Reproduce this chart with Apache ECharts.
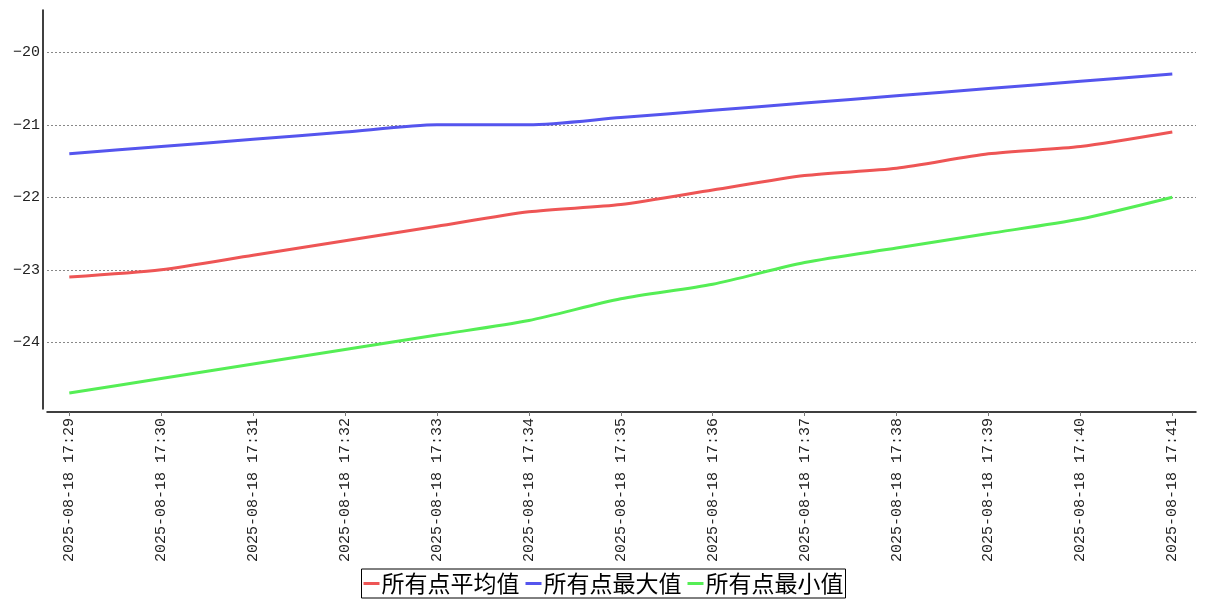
<!DOCTYPE html>
<html>
<head>
<meta charset="utf-8">
<script src="https://cdn.jsdelivr.net/npm/echarts@6/dist/echarts.min.js"></script>
<style>html,body{margin:0;padding:0;background:#fff;}#c{width:1207px;height:600px;}</style>
</head>
<body>
<div id="c"></div>
<script>
const categories = ['2025-08-18 17:29','2025-08-18 17:30','2025-08-18 17:31','2025-08-18 17:32','2025-08-18 17:33','2025-08-18 17:34','2025-08-18 17:35','2025-08-18 17:36','2025-08-18 17:37','2025-08-18 17:38','2025-08-18 17:39','2025-08-18 17:40','2025-08-18 17:41'];
const avgValues = [-23.1,-23.0,-22.8,-22.6,-22.4,-22.2,-22.1,-21.9,-21.7,-21.6,-21.4,-21.3,-21.1];
const maxValues = [-21.4,-21.3,-21.2,-21.1,-21.0,-21.0,-20.9,-20.8,-20.7,-20.6,-20.5,-20.4,-20.3];
const minValues = [-24.7,-24.5,-24.3,-24.1,-23.9,-23.7,-23.4,-23.2,-22.9,-22.7,-22.5,-22.3,-22.0];
const seriesNames = ['所有点平均值','所有点最大值','所有点最小值'];
const yMin = -24.92, yMax = -19.417;     // plotted range
const tickMin = -25, tickMax = -19;       // integer range for ticks/labels

// pixel layout
const plotTop = 10, plotBottom = 409;
const pxPerUnit = (plotBottom - plotTop) / (yMax - yMin);
const tickGridTop = plotTop - (tickMax - yMax) * pxPerUnit;
const tickGridBottomPx = plotBottom + (yMin - tickMin) * pxPerUnit;

const mono = '"Liberation Mono","DejaVu Sans Mono",monospace';
const noBounds = {outerBoundsMode: 'none', containLabel: false};
const chart = echarts.init(document.getElementById('c'));
chart.setOption({
  animation: false,
  backgroundColor: '#fff',
  grid: [
    Object.assign({left: 47, right: 11, top: plotTop, bottom: 600 - plotBottom}, noBounds),
    Object.assign({left: 69.3, right: 34.7, top: plotTop, bottom: 600 - plotBottom}, noBounds),
    Object.assign({left: 47, right: 11, top: tickGridTop, bottom: 600 - tickGridBottomPx}, noBounds)
  ],
  legend: {
    bottom: 2, left: 'center',
    data: seriesNames,
    icon: 'rect', itemWidth: 16, itemHeight: 3, itemGap: 6,
    borderColor: '#000', borderWidth: 1, padding: [3, 2, 3, 2],
    textStyle: {fontFamily: '"Noto Sans CJK SC"', fontSize: 23, color: '#000', padding: [0, 0, 0, -3]}
  },
  xAxis: [
    {gridIndex: 0, type: 'value', min: 0, max: 1, offset: 3,
     axisLine: {show: true, onZero: false, lineStyle: {color: '#000', width: 1.5}},
     axisTick: {show: false}, axisLabel: {show: false}, splitLine: {show: false}},
    {gridIndex: 1, type: 'category', data: categories, boundaryGap: false, offset: 3,
     axisLine: {show: false, onZero: false},
     axisTick: {show: true, length: 4, alignWithLabel: true, lineStyle: {color: '#777'}},
     axisLabel: {rotate: 90, margin: 6, interval: 0, fontFamily: mono, fontSize: 15, color: '#222'},
     splitLine: {show: false}},
    {gridIndex: 2, type: 'value', min: 0, max: 1, show: false, axisLine: {onZero: false}, splitLine: {show: false}}
  ],
  yAxis: [
    {gridIndex: 0, type: 'value', min: yMin, max: yMax, offset: 4,
     axisLine: {show: true, onZero: false, lineStyle: {color: '#000', width: 1.5}},
     axisTick: {show: false}, axisLabel: {show: false}, splitLine: {show: false}},
    {gridIndex: 1, type: 'value', min: yMin, max: yMax, show: false, axisLine: {onZero: false}, splitLine: {show: false}},
    {gridIndex: 2, type: 'value', min: tickMin, max: tickMax, interval: 1, offset: 4,
     axisLine: {show: false, onZero: false},
     axisTick: {show: false},
     axisLabel: {margin: 3, showMinLabel: false, showMaxLabel: false, fontFamily: mono, fontSize: 15, color: '#222',
       formatter: v => String(v).replace('-', '\u2212')},
     splitLine: {show: true, showMinLine: false, showMaxLine: false, lineStyle: {color: '#888', type: [2, 2], width: 1}}}
  ],
  series: [
    {name: seriesNames[0], type: 'line', xAxisIndex: 1, yAxisIndex: 1, data: avgValues, smooth: 0.25, symbol: 'none',
     lineStyle: {color: '#ee5555', width: 3}, itemStyle: {color: '#ee5555'}},
    {name: seriesNames[1], type: 'line', xAxisIndex: 1, yAxisIndex: 1, data: maxValues, smooth: 0.25, symbol: 'none',
     lineStyle: {color: '#5555ee', width: 3}, itemStyle: {color: '#5555ee'}},
    {name: seriesNames[2], type: 'line', xAxisIndex: 1, yAxisIndex: 1, data: minValues, smooth: 0.25, symbol: 'none',
     lineStyle: {color: '#55ee55', width: 3}, itemStyle: {color: '#55ee55'}}
  ]
});
</script>
</body>
</html>
